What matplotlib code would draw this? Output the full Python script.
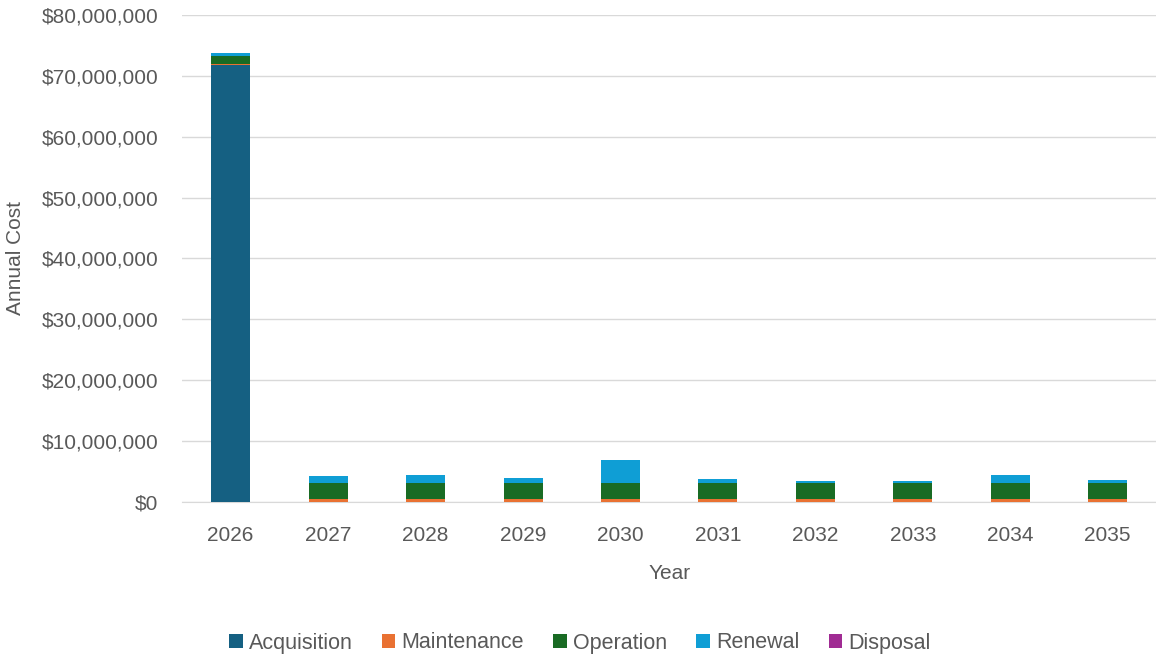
import numpy as np
import matplotlib.pyplot as plt
from matplotlib.ticker import FuncFormatter

plt.rcParams['font.family'] = ['Liberation Sans', 'DejaVu Sans']

years = ['2026', '2027', '2028', '2029', '2030', '2031', '2032', '2033', '2034', '2035']

# annual cost by category, in dollars
acquisition = [71_800_000, 0, 0, 0, 0, 0, 0, 0, 0, 0]
maintenance = [220_000, 440_000, 440_000, 440_000, 440_000, 440_000, 440_000, 440_000, 440_000, 440_000]
operation = [1_200_000, 2_680_000, 2_680_000, 2_680_000, 2_680_000, 2_680_000, 2_680_000, 2_680_000, 2_680_000, 2_680_000]
renewal = [550_000, 1_150_000, 1_260_000, 770_000, 3_720_000, 600_000, 280_000, 350_000, 1_260_000, 440_000]
disposal = [0, 0, 0, 0, 0, 0, 0, 0, 0, 0]

series = [
    ('Acquisition', acquisition, '#156082'),
    ('Maintenance', maintenance, '#E97132'),
    ('Operation', operation, '#196B24'),
    ('Renewal', renewal, '#0F9ED5'),
    ('Disposal', disposal, '#A02B93'),
]

text_color = '#595959'

fig = plt.figure(figsize=(11.56, 6.56), dpi=100)
ax = fig.add_axes([0.1574, 0.2348, 0.8430, 0.7424])

x = np.arange(len(years))
bottom = np.zeros(len(years))
for name, vals, color in series:
    vals = np.array(vals, dtype=float)
    ax.bar(x, vals, width=0.4, bottom=bottom, color=color, label=name, zorder=3)
    bottom += vals

ax.set_xlim(-0.5, len(years) - 0.5)
ax.set_ylim(0, 80_000_000)
ax.set_yticks(np.arange(0, 80_000_001, 10_000_000))
ax.yaxis.set_major_formatter(FuncFormatter(lambda v, _: f'${v:,.0f}'))
ax.set_xticks(x)
ax.set_xticklabels(years)

ax.grid(axis='y', color='#D9D9D9', linewidth=1, zorder=0)
for side in ['top', 'right', 'left']:
    ax.spines[side].set_visible(False)
ax.spines['bottom'].set_color('#D9D9D9')
ax.tick_params(axis='both', length=0, labelsize=15, colors=text_color)
ax.tick_params(axis='x', pad=17)
ax.tick_params(axis='y', pad=17)

ax.set_xlabel('Year', fontsize=15, color=text_color)
ax.xaxis.set_label_coords(0.5, -0.127)
ax.set_ylabel('Annual Cost', fontsize=15, color=text_color)
ax.yaxis.set_label_coords(-0.161, 0.5)

fig.legend(loc='center', bbox_to_anchor=(0.5017, 1 - 643 / 656), ncol=5, frameon=False,
           fontsize=15.5, labelcolor=text_color, handlelength=0.62, handleheight=0.62,
           handletextpad=0.3, columnspacing=1.35)

fig.savefig('out.png', dpi=100)
